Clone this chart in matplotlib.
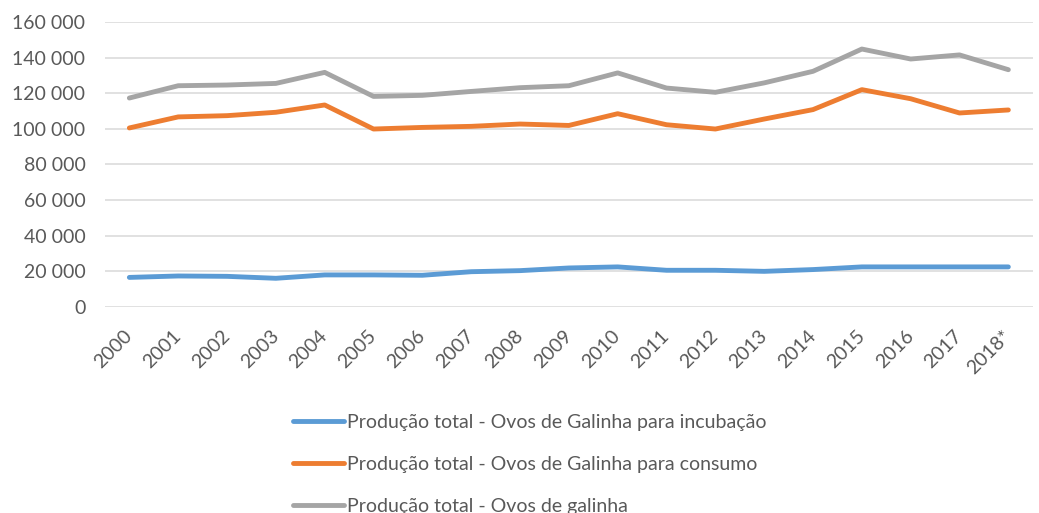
import matplotlib.pyplot as plt
from matplotlib.ticker import FuncFormatter

plt.rcParams['font.family'] = ['Lato', 'DejaVu Sans']

years = ["2000", "2001", "2002", "2003", "2004", "2005", "2006", "2007", "2008", "2009",
         "2010", "2011", "2012", "2013", "2014", "2015", "2016", "2017", "2018*"]

incubacao = [16600, 17400, 17200, 16100, 18000, 18000, 17800, 19800, 20400, 21900,
             22500, 20600, 20600, 20000, 21000, 22500, 22500, 22500, 22500]
consumo = [100500, 106700, 107400, 109300, 113400, 99900, 100800, 101400, 102700, 101900,
           108500, 102300, 99900, 105500, 110800, 122000, 116900, 108900, 110600]
total = [117300, 124200, 124600, 125500, 131700, 118200, 118800, 121000, 123100, 124200,
         131400, 122900, 120500, 125800, 132300, 144800, 139200, 141500, 133200]

labels = ["Produção total - Ovos de Galinha para incubação",
          "Produção total - Ovos de Galinha para consumo",
          "Produção total - Ovos de galinha"]
colors = ["#5B9BD5", "#ED7D31", "#A5A5A5"]

fig = plt.figure(figsize=(10.39, 5.13), dpi=100)
ax = fig.add_axes([0.101, 0.4016, 0.893, 0.5556])

x = range(len(years))
for serie, lab, col in zip([incubacao, consumo, total], labels, colors):
    ax.plot(x, serie, color=col, linewidth=3.5, label=lab, solid_capstyle='round')

ax.set_xlim(-0.5, len(years) - 0.5)
ax.set_ylim(0, 160000)
ax.set_yticks(range(0, 160001, 20000))
ax.yaxis.set_major_formatter(FuncFormatter(lambda v, p: f"{int(v):,}".replace(",", " ")))
ax.set_xticks(list(x))
ax.set_xticklabels(years, rotation=45, ha='right', va='center', rotation_mode='anchor')

ax.grid(axis='y', color='#D9D9D9', linewidth=1.1)
ax.set_axisbelow(True)
for s in ax.spines.values():
    s.set_visible(False)
ax.tick_params(axis='both', length=0, colors='#595959', labelsize=14)
ax.tick_params(axis='y', pad=14)
ax.tick_params(axis='x', pad=19)

fig.legend(loc='upper center', bbox_to_anchor=(0.51, 0.228), ncol=1, frameon=False,
           fontsize=14, handlelength=2.6, handletextpad=0.15, labelspacing=1.3,
           labelcolor='#595959')

fig.savefig("out.png", dpi=100)
